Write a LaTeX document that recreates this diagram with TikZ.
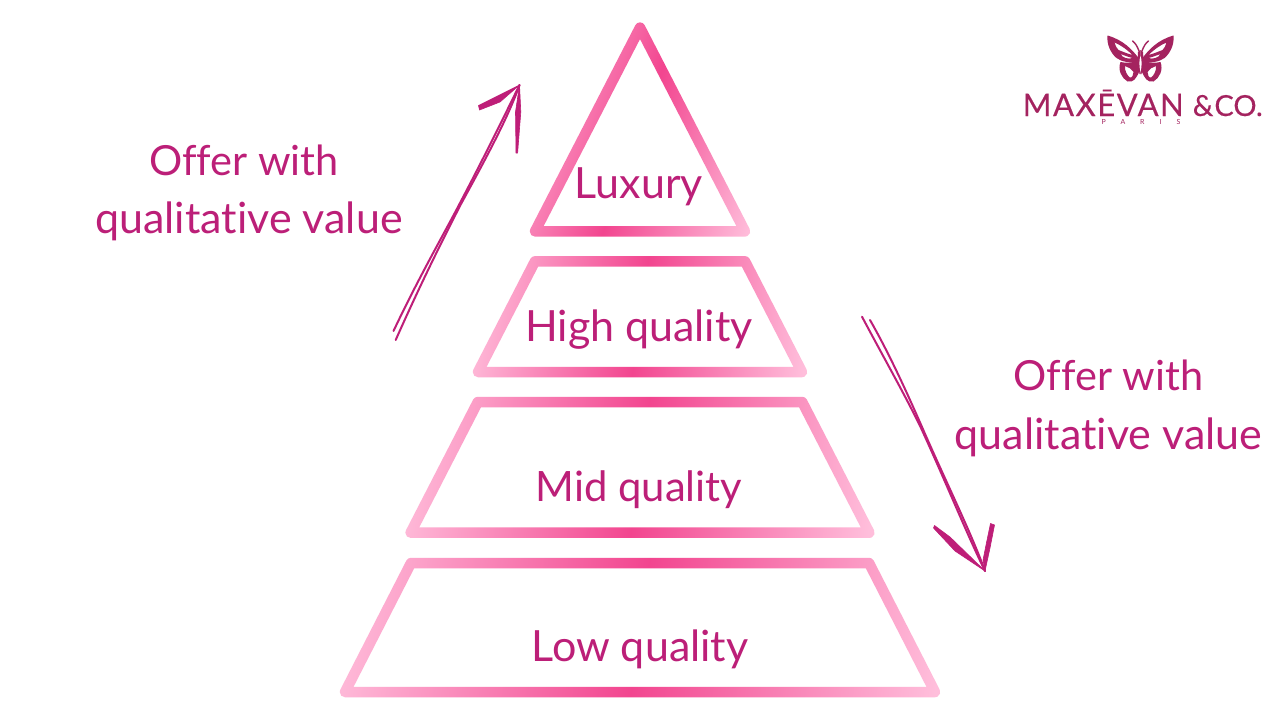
\documentclass[tikz,border=0pt]{standalone}
\usepackage{fontspec}
\setmainfont[Ligatures=NoCommon]{Lato}
\newfontfamily\logofont[LetterSpace=5,FakeBold=0.3]{Lato}
\newfontfamily\logotailfont[FakeBold=0.3]{Lato}
\newfontfamily\parisfont[LetterSpace=214]{Lato}
\definecolor{labelpink}{HTML}{BC1F78}
\definecolor{arrowpink}{HTML}{BE1E78}
\definecolor{logopink}{HTML}{A4235F}
\pgfdeclarehorizontalshading{mirrorband}{100bp}{rgb(0bp)=(1,.745,.859); rgb(25bp)=(1,.745,.859); rgb(50bp)=(.949,.271,.561); rgb(75bp)=(1,.745,.859); rgb(100bp)=(1,.745,.859)}
\tikzset{
  tierlabel/.style={anchor=base,text=labelpink,font=\fontsize{43}{43}\selectfont,inner sep=0pt},
  midlabel/.style={anchor=base,text=labelpink,font=\fontsize{41.8}{43}\selectfont,inner sep=0pt},
  sidelabel/.style={anchor=base,text=labelpink,font=\fontsize{43}{44}\selectfont,inner sep=0pt},
  offerlabel/.style={anchor=base,text=labelpink,font=\fontsize{41.5}{44}\selectfont,inner sep=0pt},
  handline/.style={draw=arrowpink,line width=2pt,line cap=round},
  handbarb/.style={fill=arrowpink,draw=arrowpink,line width=.6pt,line join=round},
  logofill/.style={fill=logopink,even odd rule},
}
\def\bw{5.25}
% #1 xtl #2 xtr #3 yt #4 xbl #5 xbr #6 yb #7 tilt #8 half span #9 band centre y
\newcommand{\tierband}[9]{%
  \begin{scope}
    \pgfmathsetmacro\hgt{#6-#3}
    \pgfmathsetmacro\phiang{atan((#1-#4)/\hgt)}
    \pgfmathsetmacro\nrmx{\bw*cos(\phiang)}
    \pgfmathsetmacro\nrmy{\bw*sin(\phiang)}
    \pgfmathsetmacro\ins{\bw/cos(\phiang)}
    \pgfmathsetmacro\slp{\bw*tan(\phiang)}
    \pgfmathsetmacro\itlx{#1+\ins-\slp}
    \pgfmathsetmacro\itrx{#2-\ins+\slp}
    \pgfmathsetmacro\iblx{#4+\ins+\slp}
    \pgfmathsetmacro\ibrx{#5-\ins-\slp}
    \pgfmathsetmacro\itopy{#3+\bw}
    \pgfmathsetmacro\ibot{#6-\bw}
    \pgfmathtruncatemacro\isapex{(#2-#1)<1?1:0}
    \ifnum\isapex=1
      \pgfmathsetmacro\apexy{#3+\bw/sin(\phiang)}
      \clip (#1,#3-\bw) arc[start angle=-90,end angle=-\phiang,radius=\bw pt]
        -- (#5+\nrmx,#6-\nrmy) arc[start angle=-\phiang,end angle=90,radius=\bw pt]
        -- (#4,#6+\bw) arc[start angle=90,end angle=180+\phiang,radius=\bw pt]
        -- (#1-\nrmx,#3-\nrmy) arc[start angle=180+\phiang,end angle=270,radius=\bw pt] -- cycle
        (#1,\apexy) -- (\iblx,\ibot) -- (\ibrx,\ibot) -- cycle;
    \else
      \clip (#1,#3-\bw) -- (#2,#3-\bw) arc[start angle=-90,end angle=-\phiang,radius=\bw pt]
        -- (#5+\nrmx,#6-\nrmy) arc[start angle=-\phiang,end angle=90,radius=\bw pt]
        -- (#4,#6+\bw) arc[start angle=90,end angle=180+\phiang,radius=\bw pt]
        -- (#1-\nrmx,#3-\nrmy) arc[start angle=180+\phiang,end angle=270,radius=\bw pt] -- cycle
        (\itlx,\itopy) -- (\iblx,\ibot) -- (\ibrx,\ibot) -- (\itrx,\itopy) -- cycle;
    \fi
    \shade[shading=mirrorband,shading angle=#7] (640-#8,#9-#8) rectangle (640+#8,#9+#8);
  \end{scope}}
\begin{document}
\begin{tikzpicture}[x=1pt,y=1pt,yscale=-1]
\useasboundingbox (0,0) rectangle (1280,720);
\fill[white] (0,0) rectangle (1280,720);

% pyramid
\tierband{640}{640}{27.6}{535}{745}{231.4}{-20}{139}{130}
\tierband{535}{745}{261.3}{478}{802}{372}{-8}{170}{317}
\tierband{477.8}{802.2}{402}{410.6}{869.4}{532.7}{-8}{236}{467}
\tierband{411}{869}{563}{345}{935}{692}{-8}{302}{627}

\node[tierlabel] (luxury) at (639,198.5) {Luxury};
\node[tierlabel] (high) at (639,341.5) {High quality};
\node[midlabel] (mid) at (639,501) {Mid quality};
\node[tierlabel] (low) at (640,661.5) {Low quality};

% side labels
\node[offerlabel] (offerL) at (244,175) {Offer with};
\node[sidelabel] (qualL) at (249,233) {qualitative value};
\node[offerlabel] (offerR) at (1108.5,390) {Offer with};
\node[sidelabel] (qualR) at (1108.5,449) {qualitative value};

% rising hand-drawn arrow
\coordinate (riseA) at (393.5,331);
\coordinate (riseB) at (395.7,340);
\coordinate (riseTip) at (519.5,85);
\draw[handline] (riseA) .. controls (420,275) and (445,232) .. (460,203) .. controls (480,165) and (500,125) .. (riseTip);
\draw[handline] (riseB) .. controls (420,285) and (445,235) .. (461,204) .. controls (485,160) and (508,118) .. (riseTip);
\fill[handbarb] (riseTip) -- (478.5,105.5) -- (479.5,110) -- (500,102) -- cycle;
\fill[handbarb] (riseTip) -- (515.5,112) -- (516,153) -- (517.6,153) -- (520.8,112) -- cycle;

% falling hand-drawn arrow
\coordinate (fallA) at (862,316.7);
\coordinate (fallB) at (870,320);
\coordinate (fallTip) at (985,571);
\draw[handline] (fallA) .. controls (885,360) and (905,395) .. (921,428) .. controls (945,480) and (965,530) .. (fallTip);
\draw[handline] (fallB) .. controls (890,355) and (908,395) .. (922,427) .. controls (945,480) and (970,530) .. (fallTip);
\fill[handbarb] (fallTip) -- (950,537) -- (934.5,525.5) -- (933.5,528) -- (955,551) -- cycle;
\fill[handbarb] (fallTip) -- (983,560) -- (986,545) -- (990.5,523.5) -- (994.5,525) -- (990,548) -- cycle;

% logo butterfly
\foreach \side in {1,-1}{
  \begin{scope}[shift={(1140.5,0)},xscale=\side]
    % upper wing with its two openings
    \fill[logofill] (2,58) .. controls (8,50) and (17,40) .. (33,35.5)
      .. controls (34,44) and (30,53) .. (24,58)
      .. controls (19,62) and (10,63) .. (3,62) -- cycle
      (8,55) .. controls (13,50) and (19,45.5) .. (26,42.5)
      .. controls (25,46) and (24,48) .. (22,50) .. controls (17,52) and (12,54) .. (8,55) -- cycle
      (8,58) .. controls (12,57) and (16,55.5) .. (20,54) .. controls (18,58) and (12,59.5) .. (8,58) -- cycle;
    % lower wing with its opening
    \fill[logofill] (2,61) .. controls (10,63) and (16,63) .. (20,62)
      .. controls (23,70) and (19,78) .. (13,81.5)
      .. controls (7,83) and (4,78) .. (1,71) -- cycle
      (7,72) .. controls (9,69) and (12,67) .. (15.5,66) .. controls (16,71) and (13,76) .. (10.5,77.5)
      .. controls (8.5,78) and (7,75) .. (7,72) -- cycle;
    % body half with slit
    \fill[logopink] (0,50) -- (2.6,52) -- (3,62) -- (1,74) -- (0,74) -- cycle;
    % antenna
    \draw[logopink,line width=1.4pt,line cap=round] (1.5,51) .. controls (3,47) and (5,43) .. (8,41);
  \end{scope}}
\fill[white] (1140.5,56) .. controls (1142,60) and (1142,66) .. (1140.5,72) .. controls (1139,66) and (1139,60) .. (1140.5,56) -- cycle;

% logo text
\node[anchor=base west,inner sep=0pt,text=logopink] (brand) at (1022.5,116)
  {\fontsize{31}{31}\selectfont{\logofont MAXĒVAN}\kern9pt{\fontsize{29}{31}\selectfont\logotailfont\&\kern1pt CO.}};
\node[anchor=base,inner sep=0pt,text=logopink] (paris) at (1141,124.5)
  {\parisfont\fontsize{7}{7}\selectfont PARIS};
\end{tikzpicture}
\end{document}
